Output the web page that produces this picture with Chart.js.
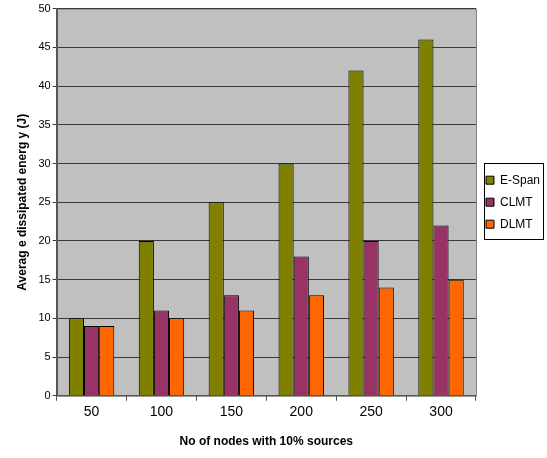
<!DOCTYPE html>
<html>
<head>
<meta charset="utf-8">
<script src="https://cdn.jsdelivr.net/npm/chart.js@4"></script>
<style>
  html, body { margin: 0; padding: 0; background: #fff; }
  #wrap { width: 547px; height: 458px; }
</style>
</head>
<body>
<div id="wrap"><canvas id="chart" width="547" height="458"></canvas></div>
<script>
'use strict';

const nodeCounts = ['50', '100', '150', '200', '250', '300'];
const eSpan = [10, 20, 25, 30, 42, 46];
const clmt = [9, 11, 13, 18, 20, 22];
const dlmt = [9, 10, 11, 13, 14, 15];

// gray plot area plus a box round the legend items
const plotBackground = {
  id: 'plotBackground',
  beforeDraw(chart) {
    const { ctx, chartArea: a } = chart;
    ctx.save();
    ctx.fillStyle = '#c0c0c0';
    ctx.fillRect(a.left, a.top, a.right - a.left, a.bottom - a.top);
    ctx.strokeStyle = '#808080';
    ctx.lineWidth = 1;
    ctx.strokeRect(a.left + 0.5, a.top + 0.5, a.right - a.left, a.bottom - a.top);
    ctx.restore();
  },
  afterDraw(chart) {
    const boxes = chart.legend.legendHitBoxes;
    if (!boxes || !boxes.length) return;
    const ctx = chart.ctx;
    const l = Math.round(boxes[0].left) - 2;
    const t = Math.round(boxes[0].top) - 11;
    const r = Math.round(Math.max(...boxes.map(b => b.left + b.width))) + 3;
    const last = boxes[boxes.length - 1];
    const b = Math.round(last.top + last.height) + 9;
    ctx.save();
    ctx.strokeStyle = '#000';
    ctx.lineWidth = 1;
    ctx.strokeRect(l + 0.5, t + 0.5, r - l, b - t);
    ctx.restore();
  }
};

let canvasElem = document.getElementById('chart');

function renderChart() {
  return new Chart(canvasElem, {
    type: 'bar',
    data: {
      labels: nodeCounts,
      datasets: [
        { label: 'E-Span', data: eSpan, backgroundColor: '#808000', borderColor: '#000', borderWidth: 1 },
        { label: 'CLMT', data: clmt, backgroundColor: '#993366', borderColor: '#000', borderWidth: 1 },
        { label: 'DLMT', data: dlmt, backgroundColor: '#ff6600', borderColor: '#000', borderWidth: 1 },
      ],
    },
    options: {
      responsive: false,
      animation: false,
      layout: { padding: { left: 8, right: -3, top: 8, bottom: 5 } },
      datasets: {
        bar: { categoryPercentage: 0.65, barPercentage: 1.0 },
      },
      plugins: {
        tooltip: { enabled: false },
        legend: {
          position: 'right',
          fullSize: false,
          labels: {
            boxWidth: 8,
            boxHeight: 8,
            padding: 10,
            color: '#000',
            font: { family: 'Liberation Sans', size: 12 },
          },
        },
      },
      scales: {
        y: {
          min: 0,
          max: 50,
          ticks: {
            stepSize: 5,
            color: '#000',
            padding: 2,
            font: { family: 'Liberation Sans', size: 11 },
          },
          grid: { color: '#3a3a3a', tickLength: 4 },
          border: { color: '#555', width: 2 },
          title: {
            display: true,
            text: 'Averag e dissipated energ y (J)',
            color: '#000',
            padding: 7,
            font: { family: 'Liberation Sans', size: 12, weight: 'bold' },
          },
        },
        x: {
          ticks: {
            color: '#000',
            padding: 3,
            font: { family: 'Liberation Sans', size: 14 },
          },
          grid: { display: true, drawOnChartArea: false, color: '#555', tickLength: 5, offset: true },
          border: { color: '#555', width: 1 },
          title: {
            display: true,
            text: 'No of nodes with 10% sources',
            color: '#000',
            padding: { top: 11 },
            font: { family: 'Liberation Sans', size: 12, weight: 'bold' },
          },
        },
      },
    },
    plugins: [plotBackground],
  });
}

renderChart();
</script>
</body>
</html>
